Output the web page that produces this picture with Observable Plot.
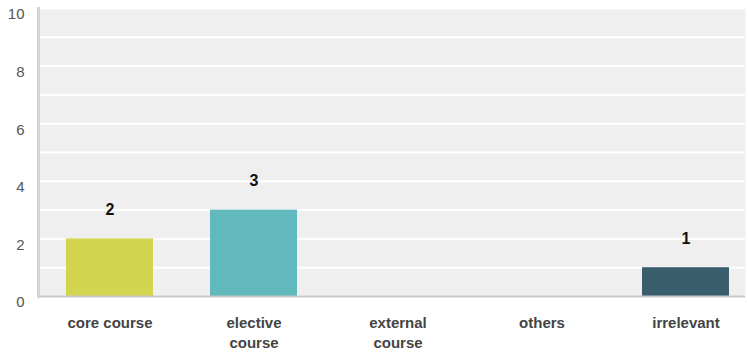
<!DOCTYPE html>
<html>
<head>
<meta charset="utf-8">
<script src="https://cdn.jsdelivr.net/npm/d3@7"></script>
<script src="https://cdn.jsdelivr.net/npm/@observablehq/plot@0.6"></script>
<style>
  html, body { margin: 0; padding: 0; background: #fff; }
  svg { display: block; }
</style>
</head>
<body>
<div id="chart"></div>
<script>
const categories = ["core course", "elective course", "external course", "others", "irrelevant"];
const counts = [2, 3, 0, 0, 1];
const colors = ["#d3d44f", "#61b9bd", "#d3d44f", "#d3d44f", "#3b5e6d"];
const tickLabels = {
  "core course": "core course",
  "elective course": "elective\ncourse",
  "external course": "external\ncourse",
  "others": "others",
  "irrelevant": "irrelevant"
};
const yTicks = [0, 2, 4, 6, 8, 10];

const data = categories.map((c, i) => ({category: c, count: counts[i], color: colors[i]}));
const bars = data.filter(d => d.count > 0);

const chart = Plot.plot({
  width: 748,
  height: 353,
  marginTop: 8,
  marginLeft: 38,
  marginRight: 3,
  marginBottom: 57,
  style: {fontFamily: "'Liberation Sans', Arial, sans-serif", background: "#fff"},
  x: {domain: categories, range: [37.5, 757.5], paddingInner: 0.396, paddingOuter: 0.198, label: null},
  y: {domain: [0, 10], label: null},
  marks: [
    Plot.frame({fill: "#efefef", stroke: null}),
    Plot.gridY({ticks: 10, stroke: "#fff", strokeOpacity: 1, strokeWidth: 2}),
    Plot.barY(bars, {x: "category", y: "count", fill: "color"}),
    Plot.text(bars, {x: "category", y: "count", text: d => String(d.count), dy: -29, fontSize: 16, fontWeight: "bold", fill: "#111"}),
    Plot.ruleY([0], {stroke: "#c8c8c8", strokeWidth: 2}),
    Plot.frame({anchor: "left", stroke: "#d4d4d4", strokeWidth: 3}),
    Plot.axisY({ticks: yTicks, tickSize: 0, tickPadding: 14, fontSize: 15, fill: "#555", dy: 6}),
    Plot.axisX({tickSize: 0, tickPadding: 17, fontSize: 15, fontWeight: "bold", fill: "#444", lineHeight: 1.35, tickFormat: d => tickLabels[d]})
  ]
});
document.getElementById("chart").append(chart);
</script>
</body>
</html>
